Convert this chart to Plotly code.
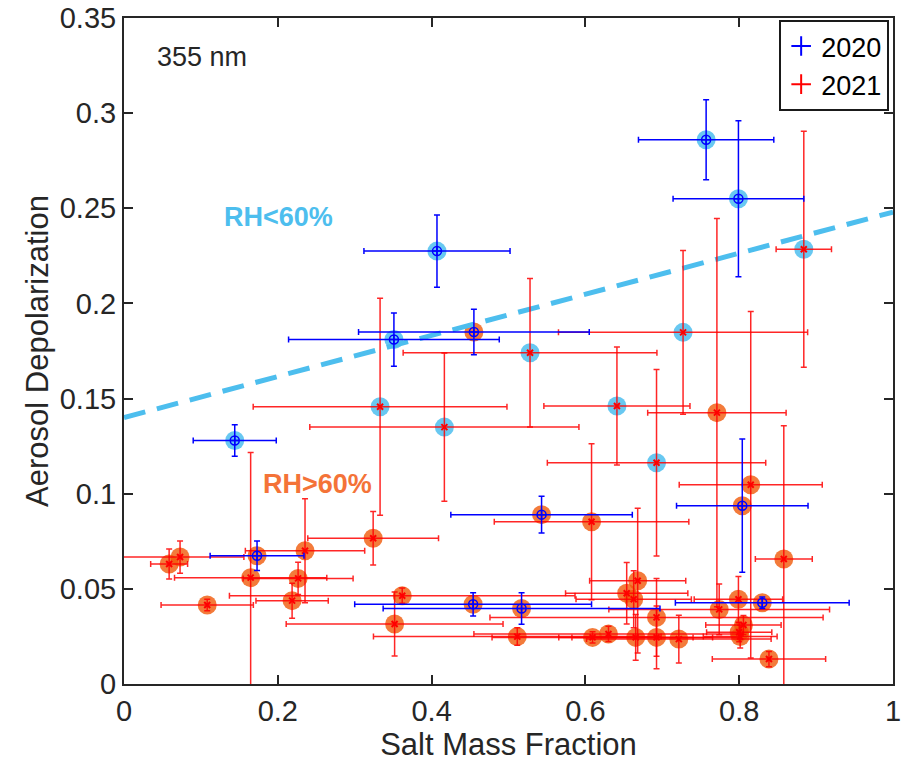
import plotly.graph_objects as go

# ---- 2020 campaign: salt mass fraction vs. aerosol depolarization (355 nm) ----
x_2020 = [0.757, 0.799, 0.407, 0.455, 0.351, 0.144, 0.804, 0.543, 0.173, 0.454, 0.517, 0.830]
y_2020 = [0.286, 0.255, 0.2275, 0.185, 0.181, 0.128, 0.0937, 0.089, 0.0674, 0.0419, 0.0397, 0.0427]
xerr_2020 = [0.088, 0.085, 0.095, 0.150, 0.137, 0.054, 0.0855, 0.118, 0.061, 0.154, 0.180, 0.113]
yerr_2020 = [0.021, 0.041, 0.019, 0.012, 0.014, 0.0083, 0.035, 0.0097, 0.0077, 0.0061, 0.0083, 0.003]
rh_2020 = ["low", "low", "low", "high", "low", "low", "high", "high", "high", "high", "high", "high"]

# ---- 2021 campaign ----
x_2021 = [0.884, 0.727, 0.528, 0.333, 0.4166, 0.641, 0.6925,
          0.771, 0.815, 0.858, 0.608, 0.324, 0.0587, 0.0729, 0.1082, 0.1647,
          0.2264, 0.2354, 0.2186, 0.3618, 0.3519, 0.5114, 0.668, 0.6537, 0.6628,
          0.6925, 0.6093, 0.630, 0.6654, 0.6925, 0.7215, 0.774, 0.799, 0.8055,
          0.800, 0.8013, 0.8387]
y_2021 = [0.2285, 0.1848, 0.1741, 0.1457, 0.135, 0.1461, 0.1163,
          0.1426, 0.1047, 0.0657, 0.0853, 0.0766, 0.0631, 0.0667, 0.0415, 0.0559,
          0.0555, 0.070, 0.0438, 0.0464, 0.0315, 0.0249, 0.0543, 0.0477, 0.0445,
          0.035, 0.0245, 0.0263, 0.0245, 0.0245, 0.0236, 0.0392, 0.0445, 0.031,
          0.0272, 0.0249, 0.0131]
xerr_2021 = [0.036, 0.162, 0.165, 0.165, 0.175, 0.095, 0.142,
             0.090, 0.093, 0.037, 0.1265, 0.085, 0.024, 0.083, 0.060, 0.099,
             0.0715, 0.0776, 0.047, 0.2247, 0.141, 0.187, 0.0625, 0.0795, 0.075,
             0.2166, 0.1307, 0.175, 0.100, 0.110, 0.120, 0.1435, 0.0575, 0.049,
             0.0424, 0.048, 0.0737]
yerr_2021 = [0.062, 0.043, 0.039, 0.057, 0.039, 0.031, 0.049,
             0.102, 0.091, 0.070, 0.041, 0.014, 0.0079, 0.0085, 0.003, 0.0657,
             0.0085, 0.0273, 0.0092, 0.004, 0.0168, 0.0046, 0.038, 0.0162, 0.015,
             0.0204, 0.003, 0.004, 0.012, 0.0165, 0.0125, 0.0133, 0.012, 0.005,
             0.005, 0.006, 0.004]
rh_2021 = ["low"] * 7 + ["high"] * 30

# Linear boundary separating the two humidity regimes
boundary_x = [0.0, 1.0]
boundary_y = [0.140, 0.248]

x_ticks = [0, 0.2, 0.4, 0.6, 0.8, 1]
y_ticks = [0, 0.05, 0.1, 0.15, 0.2, 0.25, 0.3, 0.35]

LIGHT_BLUE = "#4DBEEE"
HALO_LOW = "rgba(77,190,238,0.85)"
HALO_HIGH = "rgba(240,90,10,0.8)"
ORANGE_TEXT = "#F47338"
AXIS_COLOR = "#262626"
FONT = "Liberation Sans, Arial, sans-serif"

fig = go.Figure()

# humidity halos behind every observation
all_x = x_2020 + x_2021
all_y = y_2020 + y_2021
all_rh = rh_2020 + rh_2021
for tag, col in (("low", HALO_LOW), ("high", HALO_HIGH)):
    hx = [a for a, r in zip(all_x, all_rh) if r == tag]
    hy = [b for b, r in zip(all_y, all_rh) if r == tag]
    fig.add_trace(go.Scatter(x=hx, y=hy, mode="markers", showlegend=False,
                             hoverinfo="skip",
                             marker=dict(size=19, color=col, line=dict(width=0))))

# dashed regime boundary
fig.add_trace(go.Scatter(x=boundary_x, y=boundary_y, mode="lines", showlegend=False,
                         line=dict(color=LIGHT_BLUE, width=5, dash="22px,12px")))

# 2021 observations with error bars
fig.add_trace(go.Scatter(
    x=x_2021, y=y_2021, mode="markers", showlegend=False,
    marker=dict(symbol="x-thin-open", size=6, color="red", line=dict(color="red", width=2)),
    error_x=dict(type="data", array=xerr_2021, visible=True, color="rgba(255,0,0,0.85)",
                 thickness=1.5, width=3),
    error_y=dict(type="data", array=yerr_2021, visible=True, color="rgba(255,0,0,0.85)",
                 thickness=1.5, width=3),
))

# 2020 observations with error bars
fig.add_trace(go.Scatter(
    x=x_2020, y=y_2020, mode="markers", showlegend=False,
    marker=dict(symbol="circle-cross-open", size=9, color="blue", line=dict(color="blue", width=1.5)),
    error_x=dict(type="data", array=xerr_2020, visible=True, color="blue",
                 thickness=1.5, width=3),
    error_y=dict(type="data", array=yerr_2020, visible=True, color="blue",
                 thickness=1.5, width=3),
))

# legend entries
for name, col in (("2020", "blue"), ("2021", "red")):
    fig.add_trace(go.Scatter(x=[None], y=[None], mode="markers", name=name,
                             marker=dict(symbol="cross-thin-open", size=14, color=col,
                                         line=dict(color=col, width=2))))

fig.add_annotation(x=0.040, y=0.3296, text="355 nm", showarrow=False, xanchor="left",
                   yanchor="middle", font=dict(size=27, color="#262626", family=FONT))
fig.add_annotation(x=0.127, y=0.2454, text="<b>RH&lt;60%</b>", showarrow=False,
                   xanchor="left", yanchor="middle",
                   font=dict(size=27, color=LIGHT_BLUE, family=FONT))
fig.add_annotation(x=0.1785, y=0.1051, text="<b>RH&gt;60%</b>", showarrow=False,
                   xanchor="left", yanchor="middle",
                   font=dict(size=27, color=ORANGE_TEXT, family=FONT))

axis_common = dict(showline=True, linecolor=AXIS_COLOR, linewidth=2, mirror="ticks",
                   ticks="inside", ticklen=9, tickwidth=2, tickcolor=AXIS_COLOR,
                   showgrid=False, zeroline=False, ticklabeloverflow="allow",
                   automargin=False,
                   tickfont=dict(size=29, color=AXIS_COLOR, family=FONT))

fig.update_layout(
    width=902, height=764,
    margin=dict(l=124, r=9, t=18, b=80),
    plot_bgcolor="white", paper_bgcolor="white",
    font=dict(family=FONT, color=AXIS_COLOR),
    xaxis=dict(range=[0, 1], tickvals=x_ticks, **axis_common,
               title=dict(text="Salt Mass Fraction", font=dict(size=31, color=AXIS_COLOR),
                          standoff=6)),
    yaxis=dict(range=[0, 0.35], tickvals=y_ticks, **axis_common,
               title=dict(text="Aerosol Depolarization", font=dict(size=31, color=AXIS_COLOR),
                          standoff=2)),
    legend=dict(x=0.995, y=0.997, xanchor="right", yanchor="top",
                bgcolor="white", bordercolor="#1a1a1a", borderwidth=2,
                font=dict(size=27, color="black", family=FONT),
                itemwidth=30, tracegroupgap=0),
)

fig.write_html("out.html")
